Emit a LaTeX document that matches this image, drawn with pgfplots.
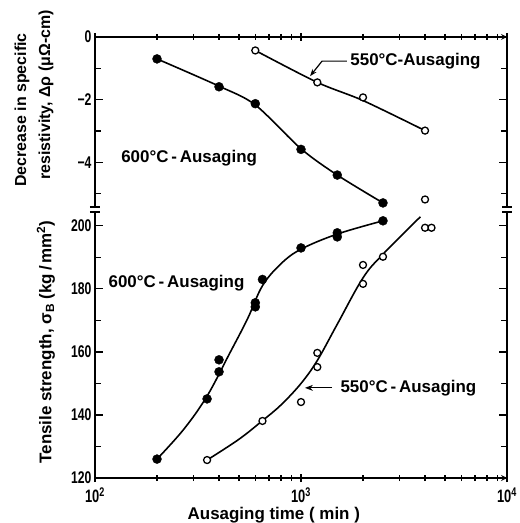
\documentclass[border=0pt]{standalone}
\usepackage{fontspec}
\setmainfont{Liberation Sans}
\newfontfamily\condensed[FakeStretch=0.72]{Liberation Sans}
\usepackage{pgfplots}
\pgfplotsset{compat=1.18}
\usetikzlibrary{arrows.meta}

\pgfplotstableread{
x y
200 -0.70
400 -1.59
600 -2.13
1000 -3.59
1500 -4.41
2500 -5.30
}\upperSixHundred

\pgfplotstableread{
x y
200 -0.70
400 -1.57
600 -2.17
1000 -3.57
1500 -4.41
2500 -5.30
}\upperSixHundredCurve

\pgfplotstableread{
x y
600 -0.43
1200 -1.45
2000 -1.93
4000 -2.99
4000 -5.19
}\upperFiveFifty

\pgfplotstableread{
x y
600 -0.43
1200 -1.45
2000 -2.03
4000 -2.99
}\upperFiveFiftyCurve

\pgfplotstableread{
x y
200 126.0
350 145.1
400 153.7
400 157.5
600 174.3
600 175.6
650 183.0
1000 193.0
1500 196.5
1500 197.8
2500 201.6
}\lowerSixHundred

\pgfplotstableread{
x y
200 126.0
270 135.5
350 146.0
450 159.5
550 170.5
650 181.0
800 188.0
1000 192.6
1500 197.4
2500 201.6
}\lowerSixHundredCurve

\pgfplotstableread{
x y
350 125.7
650 138.1
1000 144.1
1200 155.2
1200 159.7
2000 181.6
2000 187.6
2500 190.2
4000 199.4
4300 199.4
}\lowerFiveFifty

\pgfplotstableread{
x y
350 125.7
500 132.3
650 138.2
800 143.2
1000 150.0
1200 157.3
1500 168.8
2000 183.5
2500 191.0
3800 202.9
}\lowerFiveFiftyCurve

\begin{document}
\begin{tikzpicture}[font=\bfseries]
\pgfplotsset{
  every axis/.append style={
    scale only axis, width=412bp, xmode=log, xmin=100, xmax=10000,
    tick align=inside, major tick length=8bp, minor tick length=6bp,
    every tick/.style={black, line width=1.2pt},
    axis line style={line width=1.6pt, -},
    tick label style={font=\condensed\bfseries\fontsize{17}{17}\selectfont},
    /pgf/number format/assume math mode=true,
    xtick={100,1000,10000},
    minor xtick={200,300,400,500,600,700,800,900,2000,3000,4000,5000,6000,7000,8000,9000},
    yticklabel pos=left,
    clip=false,
  },
}
% ---------- lower panel: tensile strength ----------
\begin{axis}[name=lower, at={(0,0)}, anchor=south west, height=266bp,
  axis x line=bottom, axis y line=box,
  ymin=120, ymax=204.4,
  ytick={120,140,160,180,200}, minor ytick={130,150,170,190},
  xticklabels={10\textsuperscript{2},10\textsuperscript{3},10\textsuperscript{4}},
  xticklabel style={yshift=-2bp, font=\condensed\bfseries\fontsize{18}{18}\selectfont},
  xlabel={Ausaging time ( min )},
  xlabel style={font=\bfseries\fontsize{17}{17}\selectfont, at={(axis description cs:0.434,-0.139)}, anchor=center},
]
\addplot[black, line width=1.6pt, smooth, tension=0.6] table[x=x,y=y] {\lowerSixHundredCurve};
\addplot[black, line width=1.6pt, smooth, tension=0.6] table[x=x,y=y] {\lowerFiveFiftyCurve};
\addplot[only marks, mark=*, mark size=4.5bp, black] table[x=x,y=y] {\lowerSixHundred};
\addplot[only marks, mark=*, mark size=3.5bp, mark options={fill=white, draw=black, line width=1.3pt}] table[x=x,y=y] {\lowerFiveFifty};
\node[anchor=west, font=\bfseries\fontsize{17}{17}\selectfont] at (axis cs:112,181.9) {600°C\,-\,Ausaging};
\node[anchor=west, font=\bfseries\fontsize{17}{17}\selectfont] at (axis cs:1496,148.6) {550°C\,-\,Ausaging};
\draw[line width=1.2pt, -{Stealth[length=8bp,width=6bp]}] (axis cs:1415,148.6) -- (axis cs:1045,148.6);
\end{axis}
% ---------- upper panel: resistivity ----------
\begin{axis}[name=upper, at={(0,271bp)}, anchor=south west, height=170bp,
  axis x line=top, axis y line=box,
  ymin=-5.43, ymax=0,
  ytick={0,-2,-4}, minor ytick={-1,-3,-5},
  yticklabels={0,−2,−4},
  xticklabels={},
]
\addplot[black, line width=1.6pt, smooth, tension=0.5] table[x=x,y=y] {\upperSixHundredCurve};
\addplot[black, line width=1.6pt, smooth] table[x=x,y=y] {\upperFiveFiftyCurve};
\addplot[only marks, mark=*, mark size=4.5bp, black] table[x=x,y=y] {\upperSixHundred};
\addplot[only marks, mark=*, mark size=3.5bp, mark options={fill=white, draw=black, line width=1.3pt}] table[x=x,y=y] {\upperFiveFifty};
\node[anchor=west, font=\bfseries\fontsize{17}{17}\selectfont] at (axis cs:129,-3.87) {600°C\,-\,Ausaging};
\node[anchor=west, font=\bfseries\fontsize{17}{17}\selectfont] at (axis cs:1671,-0.77) {550°C-Ausaging};
\draw[line width=1.2pt, -{Stealth[length=7bp,width=5bp]}] (axis cs:1671,-0.77) -- (axis cs:1265,-0.77) -- (axis cs:1107,-1.25);
\end{axis}
% axis-break caps
\draw[line width=1.6pt] ([xshift=-5bp]upper.south west) -- ([xshift=5bp]upper.south west);
\draw[line width=1.6pt] ([xshift=-5bp]upper.south east) -- ([xshift=5bp]upper.south east);
\draw[line width=1.6pt] ([xshift=-5bp]lower.north west) -- ([xshift=5bp]lower.north west);
\draw[line width=1.6pt] ([xshift=-5bp]lower.north east) -- ([xshift=5bp]lower.north east);
% y-axis labels
\node[rotate=90, font=\bfseries\fontsize{16}{16}\selectfont] at (-73bp,368bp) {Decrease in specific};
\node[rotate=90, font=\bfseries\fontsize{16}{16}\selectfont] at (-49bp,383bp) {resistivity, Δρ (μΩ-cm)};
\node[rotate=90, font=\bfseries\fontsize{17}{17}\selectfont] at (-49bp,136bp) {Tensile strength, σ\textsubscript{B} (kg\,/\,mm\textsuperscript{2})};
\pgfresetboundingbox
\path[use as bounding box] (-95bp,-45bp) rectangle (425bp,478bp);
\end{tikzpicture}
\end{document}
